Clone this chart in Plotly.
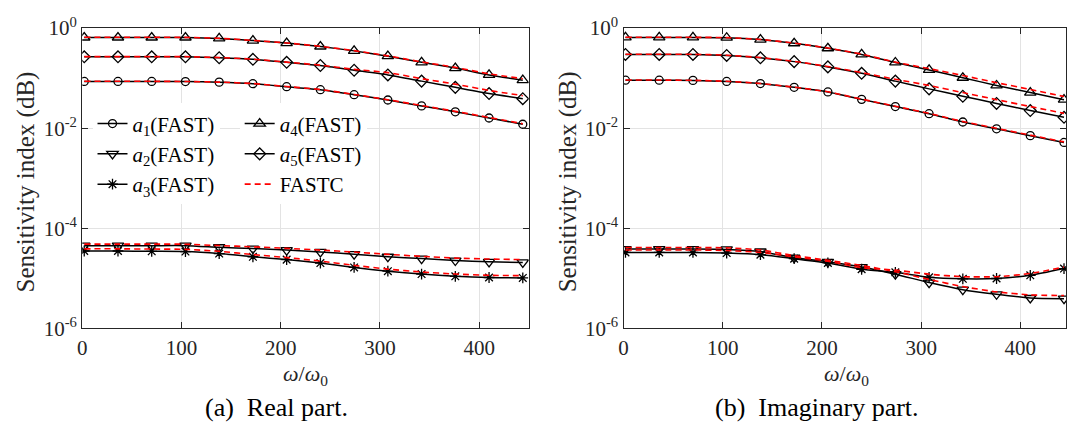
import plotly.graph_objects as go

# ---------------- data ----------------
omega = [2, 36, 70, 104, 138, 172, 206, 240, 274, 308, 342, 376, 410, 444]

# (a) Real part - FAST
re_a1 = [0.0861, 0.0861, 0.0861, 0.0855, 0.0832, 0.0776, 0.0676, 0.0589, 0.0467, 0.0366, 0.0279, 0.0213, 0.0160, 0.0120]
re_a2 = [4.50e-5, 4.50e-5, 4.50e-5, 4.50e-5, 4.18e-5, 3.94e-5, 3.67e-5, 3.37e-5, 3.04e-5, 2.70e-5, 2.48e-5, 2.27e-5, 2.14e-5, 2.08e-5]
re_a3 = [3.52e-5, 3.52e-5, 3.47e-5, 3.43e-5, 3.13e-5, 2.70e-5, 2.37e-5, 2.02e-5, 1.65e-5, 1.39e-5, 1.22e-5, 1.10e-5, 1.04e-5, 1.02e-5]
re_a4 = [0.650, 0.650, 0.650, 0.650, 0.622, 0.564, 0.502, 0.429, 0.351, 0.275, 0.207, 0.159, 0.116, 0.0912]
re_a5 = [0.267, 0.267, 0.267, 0.267, 0.256, 0.238, 0.207, 0.179, 0.144, 0.116, 0.0873, 0.0655, 0.0492, 0.0389]
# (a) Real part - FASTC
re_c1 = [0.0865, 0.0865, 0.0865, 0.0858, 0.0835, 0.0780, 0.0680, 0.0594, 0.0472, 0.0371, 0.0284, 0.0217, 0.0164, 0.0123]
re_c2 = [4.84e-5, 4.84e-5, 4.84e-5, 4.81e-5, 4.52e-5, 4.27e-5, 3.98e-5, 3.67e-5, 3.35e-5, 3.02e-5, 2.75e-5, 2.54e-5, 2.43e-5, 2.37e-5]
re_c3 = [3.89e-5, 3.89e-5, 3.85e-5, 3.80e-5, 3.47e-5, 2.99e-5, 2.60e-5, 2.21e-5, 1.82e-5, 1.53e-5, 1.34e-5, 1.22e-5, 1.15e-5, 1.13e-5]
re_c4 = [0.655, 0.655, 0.655, 0.653, 0.626, 0.568, 0.506, 0.433, 0.355, 0.279, 0.211, 0.164, 0.122, 0.0977]
re_c5 = [0.270, 0.270, 0.270, 0.269, 0.258, 0.240, 0.209, 0.182, 0.150, 0.129, 0.0977, 0.0759, 0.0569, 0.0447]

# (b) Imaginary part - FAST
im_a1 = [0.0912, 0.0912, 0.0902, 0.0861, 0.0780, 0.0656, 0.0530, 0.0377, 0.0271, 0.0195, 0.0133, 0.00973, 0.00710, 0.00519]
im_a2 = [3.85e-5, 3.85e-5, 3.85e-5, 3.79e-5, 3.44e-5, 2.58e-5, 2.14e-5, 1.68e-5, 1.21e-5, 8.24e-6, 5.94e-6, 4.80e-6, 4.05e-6, 3.93e-6]
im_a3 = [3.29e-5, 3.29e-5, 3.29e-5, 3.20e-5, 2.98e-5, 2.47e-5, 2.03e-5, 1.52e-5, 1.32e-5, 1.05e-5, 9.79e-6, 9.93e-6, 1.15e-5, 1.57e-5]
im_a4 = [0.652, 0.652, 0.652, 0.643, 0.590, 0.498, 0.396, 0.298, 0.206, 0.146, 0.102, 0.0715, 0.0515, 0.0372]
im_a5 = [0.298, 0.298, 0.298, 0.285, 0.255, 0.214, 0.168, 0.125, 0.0873, 0.0611, 0.0435, 0.0313, 0.0225, 0.0165]
# (b) Imaginary part - FASTC
im_c1 = [0.0916, 0.0916, 0.0906, 0.0865, 0.0784, 0.0660, 0.0534, 0.0381, 0.0275, 0.0198, 0.0136, 0.00995, 0.00728, 0.00533]
im_c2 = [4.13e-5, 4.13e-5, 4.13e-5, 4.07e-5, 3.69e-5, 2.85e-5, 2.30e-5, 1.81e-5, 1.36e-5, 9.51e-6, 6.85e-6, 5.38e-6, 4.67e-6, 4.53e-6]
im_c3 = [3.69e-5, 3.69e-5, 3.69e-5, 3.59e-5, 3.31e-5, 2.69e-5, 2.19e-5, 1.64e-5, 1.46e-5, 1.21e-5, 1.08e-5, 1.08e-5, 1.25e-5, 1.68e-5]
im_c4 = [0.655, 0.655, 0.655, 0.646, 0.594, 0.502, 0.400, 0.302, 0.209, 0.155, 0.113, 0.0813, 0.0594, 0.0429]
im_c5 = [0.300, 0.300, 0.300, 0.288, 0.258, 0.217, 0.171, 0.129, 0.0951, 0.0715, 0.0515, 0.0372, 0.0271, 0.0198]

names = ["<i>a</i><sub>1</sub>(FAST)", "<i>a</i><sub>2</sub>(FAST)", "<i>a</i><sub>3</sub>(FAST)",
         "<i>a</i><sub>4</sub>(FAST)", "<i>a</i><sub>5</sub>(FAST)"]
fastc_name = "FASTC"
symbols = ["circle-open", "triangle-down-open", "asterisk-open", "triangle-up-open", "diamond-open"]
msizes = [8, 10, 9, 10, 9]

x_ticks = [0, 100, 200, 300, 400]
y_ticks = [1e-6, 1e-4, 1e-2, 1]
y_ticktext = ["10<sup>-6</sup>", "10<sup>-4</sup>", "10<sup>-2</sup>", "10<sup>0</sup>"]

FONT = "Liberation Serif"
W, H = 1067, 443

fig = go.Figure()

panels = [
    ("x", "y", [re_a1, re_a2, re_a3, re_a4, re_a5], [re_c1, re_c2, re_c3, re_c4, re_c5], True),
    ("x2", "y2", [im_a1, im_a2, im_a3, im_a4, im_a5], [im_c1, im_c2, im_c3, im_c4, im_c5], False),
]

for xa, ya, fast, fastc, show in panels:
    for i in range(5):
        fig.add_trace(go.Scatter(
            x=omega, y=fast[i], xaxis=xa, yaxis=ya,
            mode="lines+markers", name=names[i],
            line=dict(color="black", width=1.5, shape="spline", smoothing=0.6),
            marker=dict(symbol=symbols[i], size=msizes[i], color="black",
                        line=dict(color="black", width=1.3)),
            showlegend=show, legend="legend" if i < 3 else "legend2",
        ))
    for i in range(5):
        fig.add_trace(go.Scatter(
            x=omega, y=fastc[i], xaxis=xa, yaxis=ya,
            mode="lines", name=fastc_name,
            line=dict(color="#ff0000", width=1.6, dash="6px,4px", shape="spline", smoothing=0.6),
            showlegend=(show and i == 0), legend="legend2",
        ))

axis_common = dict(
    showline=True, linecolor="#262626", linewidth=1.3, mirror="ticks",
    ticks="inside", ticklen=6, tickwidth=1, tickcolor="#262626",
    showgrid=True, gridcolor="#e3e3e3", gridwidth=1, zeroline=False,
    tickfont=dict(family=FONT, size=21, color="#262626"),
)

x0a, x1a = 77.7 / W, 526.7 / W
x0b, x1b = 622.0 / W, 1.0
ytop, ybot = 1 - 15 / H, 1 - 334 / H

legend_font = dict(family=FONT, size=21, color="black")

fig.update_layout(
    width=W, height=H,
    margin=dict(l=0, r=0, t=0, b=0),
    paper_bgcolor="white", plot_bgcolor="white",
    font=dict(family=FONT, color="#262626"),
    xaxis=dict(domain=[x0a, x1a], range=[0, 450], tickvals=x_ticks, anchor="y", **axis_common),
    yaxis=dict(domain=[ybot, ytop], type="log", range=[-6, 0], tickvals=y_ticks, ticktext=y_ticktext,
               anchor="x", **axis_common),
    xaxis2=dict(domain=[x0b, x1b], range=[0, 446], tickvals=x_ticks, anchor="y2", **axis_common),
    yaxis2=dict(domain=[ybot, ytop], type="log", range=[-6, 0], tickvals=y_ticks, ticktext=y_ticktext,
                anchor="x2", **axis_common),
    legend=dict(x=88 / W, y=1 - 95 / H, xanchor="left", yanchor="top",
                bgcolor="white", borderwidth=0, traceorder="normal", tracegroupgap=0,
                font=legend_font),
    legend2=dict(x=236 / W, y=1 - 95 / H, xanchor="left", yanchor="top",
                 bgcolor="white", borderwidth=0, traceorder="normal", tracegroupgap=0,
                 font=legend_font),
)

ann_font = dict(family=FONT, color="#262626")
annotations = [
    dict(text="Sensitivity index (dB)", x=21 / W, y=1 - 178 / H, textangle=-90,
         font=dict(size=25, **ann_font)),
    dict(text="Sensitivity index (dB)", x=566 / W, y=1 - 178 / H, textangle=-90,
         font=dict(size=25, **ann_font)),
    dict(text="<i>ω</i>/<i>ω</i><sub>0</sub>", x=302 / W, y=1 - 383 / H,
         font=dict(size=22, **ann_font)),
    dict(text="<i>ω</i>/<i>ω</i><sub>0</sub>", x=846 / W, y=1 - 383 / H,
         font=dict(size=22, **ann_font)),
    dict(text="(a)&nbsp;&nbsp;Real part.", x=273 / W, y=1 - 418 / H,
         font=dict(size=26, family=FONT, color="black")),
    dict(text="(b)&nbsp;&nbsp;Imaginary part.", x=817 / W, y=1 - 418 / H,
         font=dict(size=26, family=FONT, color="black")),
]
for a in annotations:
    a.update(xref="paper", yref="paper", xanchor="center", yanchor="middle", showarrow=False)
fig.update_layout(annotations=annotations)

fig.write_html("out.html", config={"displayModeBar": False},
               post_script="document.body.style.margin='0px';")
